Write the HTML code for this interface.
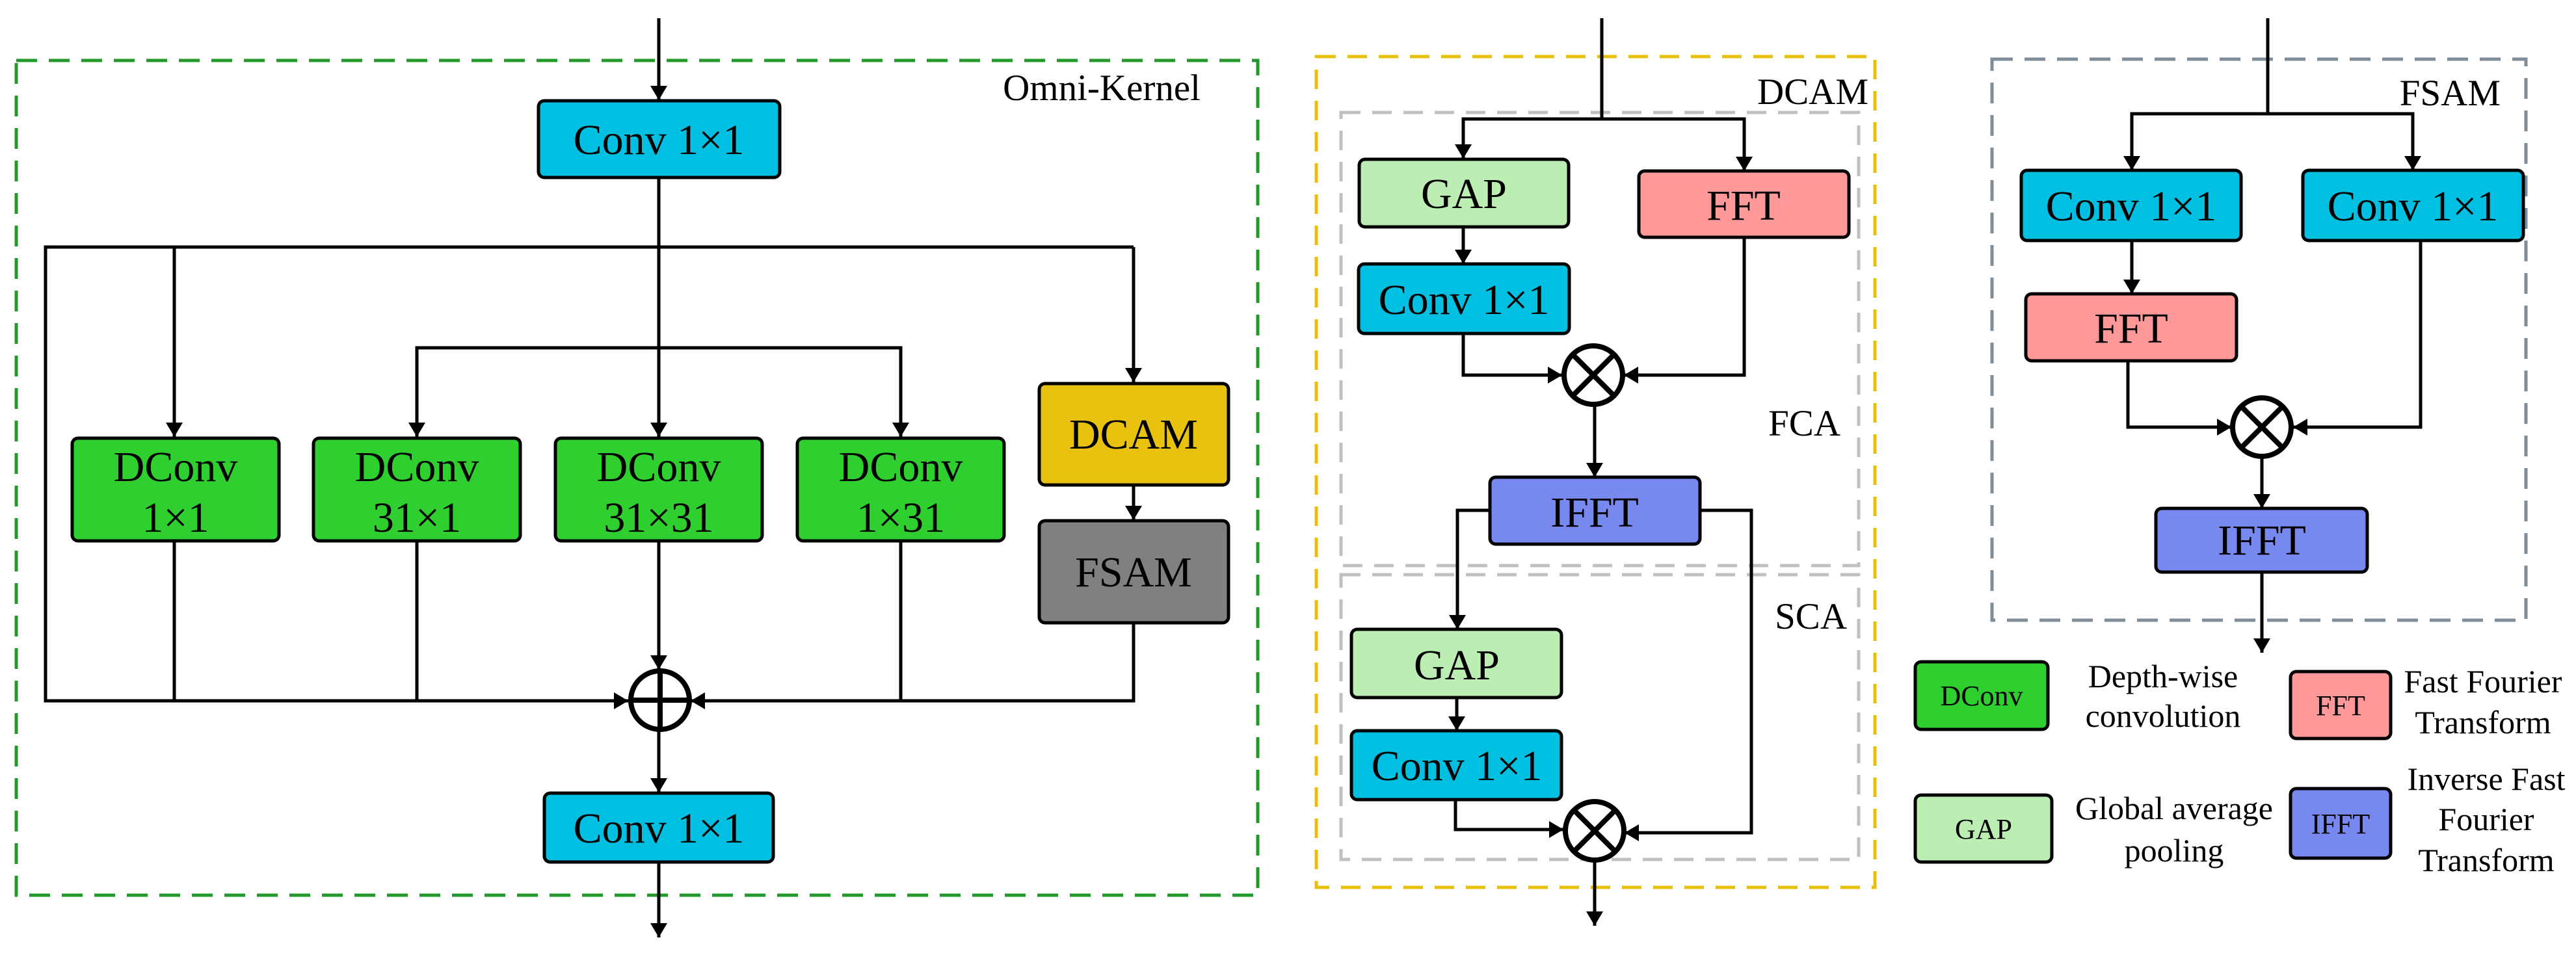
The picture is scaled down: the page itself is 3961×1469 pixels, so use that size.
<!DOCTYPE html>
<html><head><meta charset="utf-8"><style>
html,body{margin:0;padding:0;background:#fff;}
svg{display:block;}
svg text{font-family:"Liberation Serif","DejaVu Serif","Times New Roman",serif !important;fill:#000;}
</style></head><body>
<svg width="3961" height="1469" viewBox="0 0 3961 1469" xmlns="http://www.w3.org/2000/svg" font-family="'Liberation Serif', 'DejaVu Serif', serif">
<defs>
<marker id="a" markerUnits="userSpaceOnUse" markerWidth="24" markerHeight="26" refX="22" refY="13" orient="auto">
<path d="M0,0 L22,13 L0,26 Z" fill="#000"/>
</marker>
</defs>
<g fill="none" stroke-width="5">
<rect x="25" y="93" width="1909" height="1284" stroke="#22992A" stroke-dasharray="32,18"/>
<rect x="2024" y="87" width="859" height="1278" stroke="#E8C00A" stroke-dasharray="30,18"/>
<rect x="2062" y="173" width="796" height="697" stroke="#C0C0C0" stroke-dasharray="30,18"/>
<rect x="2062" y="884" width="796" height="438" stroke="#C0C0C0" stroke-dasharray="30,18"/>
<rect x="3063" y="91" width="821" height="863" stroke="#7E8D99" stroke-dasharray="32,18"/>
</g>

<g fill="none" stroke="#000" stroke-width="5">
<line x1="1013" y1="28" x2="1013" y2="154" marker-end="url(#a)"/>
<line x1="1013" y1="273" x2="1013" y2="672" marker-end="url(#a)"/>
<polyline points="1743,380 70,380 70,1078 966,1078" marker-end="url(#a)"/>
<line x1="1743" y1="380" x2="1743" y2="588" marker-end="url(#a)"/>
<line x1="268" y1="380" x2="268" y2="672" marker-end="url(#a)"/>
<polyline points="641,672 641,535 1385,535 1385,672"/>
<line x1="641" y1="535" x2="641" y2="672" marker-end="url(#a)"/>
<line x1="1385" y1="535" x2="1385" y2="672" marker-end="url(#a)"/>
<line x1="268" y1="832" x2="268" y2="1078"/>
<line x1="641" y1="832" x2="641" y2="1078"/>
<line x1="1385" y1="832" x2="1385" y2="1078"/>
<line x1="1013" y1="832" x2="1013" y2="1030" marker-end="url(#a)"/>
<line x1="1743" y1="746" x2="1743" y2="800" marker-end="url(#a)"/>
<polyline points="1743,958 1743,1078 1062,1078" marker-end="url(#a)"/>
<line x1="1013" y1="1124" x2="1013" y2="1219" marker-end="url(#a)"/>
<line x1="1013" y1="1326" x2="1013" y2="1442" marker-end="url(#a)"/>

<line x1="2463" y1="28" x2="2463" y2="183"/>
<polyline points="2250,245 2250,183 2682,183 2682,262"/>
<line x1="2250" y1="183" x2="2250" y2="244" marker-end="url(#a)"/>
<line x1="2682" y1="183" x2="2682" y2="263" marker-end="url(#a)"/>
<line x1="2250" y1="349" x2="2250" y2="406" marker-end="url(#a)"/>
<polyline points="2250,513 2250,577 2402,577" marker-end="url(#a)"/>
<polyline points="2682,365 2682,577 2497,577" marker-end="url(#a)"/>
<line x1="2452" y1="623" x2="2452" y2="734" marker-end="url(#a)"/>
<polyline points="2291,785 2241,785 2241,968" marker-end="url(#a)"/>
<polyline points="2614,785 2693,785 2693,1281 2498,1281" marker-end="url(#a)"/>
<line x1="2240" y1="1073" x2="2240" y2="1124" marker-end="url(#a)"/>
<polyline points="2238,1230 2238,1276 2404,1276" marker-end="url(#a)"/>
<line x1="2452" y1="1322" x2="2452" y2="1424" marker-end="url(#a)"/>

<line x1="3487" y1="28" x2="3487" y2="175"/>
<polyline points="3278,262 3278,175 3710,175 3710,262"/>
<line x1="3278" y1="175" x2="3278" y2="262" marker-end="url(#a)"/>
<line x1="3710" y1="175" x2="3710" y2="262" marker-end="url(#a)"/>
<line x1="3278" y1="370" x2="3278" y2="452" marker-end="url(#a)"/>
<polyline points="3272,555 3272,657 3431,657" marker-end="url(#a)"/>
<polyline points="3722,370 3722,657 3526,657" marker-end="url(#a)"/>
<line x1="3478" y1="704" x2="3478" y2="782" marker-end="url(#a)"/>
<line x1="3478" y1="880" x2="3478" y2="1004" marker-end="url(#a)"/>
</g>

<g stroke="#000" stroke-width="5">
<rect x="828" y="155" width="371" height="118" rx="9" fill="#00BFE0"/>
<rect x="111" y="674" width="318" height="158" rx="9" fill="#2ECF2E"/>
<rect x="482" y="674" width="318" height="158" rx="9" fill="#2ECF2E"/>
<rect x="854" y="674" width="318" height="158" rx="9" fill="#2ECF2E"/>
<rect x="1226" y="674" width="318" height="158" rx="9" fill="#2ECF2E"/>
<rect x="1598" y="590" width="291" height="156" rx="9" fill="#E8C20E"/>
<rect x="1598" y="801" width="291" height="157" rx="9" fill="#808080"/>
<rect x="837" y="1220" width="352" height="106" rx="9" fill="#00BFE0"/>

<rect x="2090" y="245" width="322" height="104" rx="9" fill="#BCEEB4"/>
<rect x="2520" y="263" width="323" height="102" rx="9" fill="#FF9999"/>
<rect x="2089" y="406" width="324" height="107" rx="9" fill="#00BFE0"/>
<rect x="2291" y="734" width="323" height="103" rx="9" fill="#7788EE"/>
<rect x="2078" y="968" width="323" height="105" rx="9" fill="#BCEEB4"/>
<rect x="2078" y="1124" width="323" height="106" rx="9" fill="#00BFE0"/>

<rect x="3108" y="262" width="338" height="108" rx="9" fill="#00BFE0"/>
<rect x="3541" y="262" width="339" height="108" rx="9" fill="#00BFE0"/>
<rect x="3115" y="452" width="324" height="103" rx="9" fill="#FF9999"/>
<rect x="3315" y="782" width="325" height="98" rx="9" fill="#7788EE"/>

<rect x="2945" y="1018" width="204" height="104" rx="9" fill="#2ECF2E"/>
<rect x="3522" y="1033" width="154" height="103" rx="9" fill="#FF9999"/>
<rect x="2945" y="1223" width="210" height="103" rx="9" fill="#BCEEB4"/>
<rect x="3522" y="1213" width="154" height="107" rx="9" fill="#7788EE"/>
</g>

<g fill="#fff" stroke="#000" stroke-width="8">
<circle cx="1015" cy="1077" r="45"/>
<line x1="970" y1="1077" x2="1060" y2="1077"/>
<line x1="1015" y1="1032" x2="1015" y2="1122"/>
<circle cx="2450" cy="577" r="45"/>
<line x1="2418" y1="545" x2="2482" y2="609"/><line x1="2482" y1="545" x2="2418" y2="609"/>
<circle cx="2452" cy="1278" r="45"/>
<line x1="2420" y1="1246" x2="2484" y2="1310"/><line x1="2484" y1="1246" x2="2420" y2="1310"/>
<circle cx="3478" cy="657" r="45"/>
<line x1="3446" y1="625" x2="3510" y2="689"/><line x1="3510" y1="625" x2="3446" y2="689"/>
</g>

<g font-size="66" text-anchor="middle">
<text x="1013" y="237">Conv 1×1</text>
<text x="270" y="740">DConv</text><text x="270" y="818">1×1</text>
<text x="641" y="740">DConv</text><text x="641" y="818">31×1</text>
<text x="1013" y="740">DConv</text><text x="1013" y="818">31×31</text>
<text x="1385" y="740">DConv</text><text x="1385" y="818">1×31</text>
<text x="1743" y="690">DCAM</text>
<text x="1743" y="902">FSAM</text>
<text x="1013" y="1296">Conv 1×1</text>

<text x="2251" y="320">GAP</text>
<text x="2681" y="338">FFT</text>
<text x="2251" y="483">Conv 1×1</text>
<text x="2452" y="810">IFFT</text>
<text x="2240" y="1045">GAP</text>
<text x="2240" y="1200">Conv 1×1</text>

<text x="3277" y="339">Conv 1×1</text>
<text x="3710" y="339">Conv 1×1</text>
<text x="3277" y="527">FFT</text>
<text x="3478" y="853">IFFT</text>
</g>
<g font-size="57" text-anchor="end">
<text x="1846" y="154">Omni-Kernel</text>
<text x="2873" y="160">DCAM</text>
<text x="2830" y="670">FCA</text>
<text x="2840" y="967">SCA</text>
<text x="3845" y="162">FSAM</text>
</g>
<g font-size="44" text-anchor="middle">
<text x="3047" y="1085">DConv</text>
<text x="3599" y="1100">FFT</text>
<text x="3050" y="1290">GAP</text>
<text x="3599" y="1282">IFFT</text>
</g>
<g font-size="50" text-anchor="middle">
<text x="3326" y="1057">Depth-wise</text>
<text x="3326" y="1118">convolution</text>
<text x="3818" y="1065">Fast Fourier</text>
<text x="3818" y="1128">Transform</text>
<text x="3343" y="1260">Global average</text>
<text x="3343" y="1325">pooling</text>
<text x="3823" y="1215">Inverse Fast</text>
<text x="3823" y="1277">Fourier</text>
<text x="3823" y="1340">Transform</text>
</g>
</svg>
</body></html>
